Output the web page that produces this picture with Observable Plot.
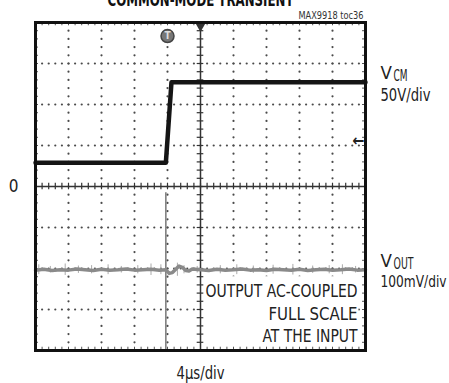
<!DOCTYPE html>
<html>
<head>
<meta charset="utf-8">
<script src="https://cdn.jsdelivr.net/npm/d3@7"></script>
<script src="https://cdn.jsdelivr.net/npm/@observablehq/plot@0.6"></script>
<style>
  html, body { margin: 0; padding: 0; background: #fff; }
  #chart svg { display: block; }
</style>
</head>
<body>
<div id="chart"></div>
<script>
// ---- data (divisions on the scope screen) ----
const vcmTime  = [0, 3.95, 4.12, 10];
const vcmLevel = [0.58, 0.58, 2.54, 2.54];

const voutTime  = [0, 0.25, 0.5, 0.75, 1, 1.25, 1.5, 1.75, 2, 2.25, 2.5, 2.75, 3, 3.25, 3.5, 3.75,
                   3.95, 4.05, 4.15, 4.25, 4.35, 4.45, 4.55, 4.65, 4.75,
                   5, 5.25, 5.5, 5.75, 6, 6.25, 6.5, 6.75, 7, 7.25, 7.5, 7.75, 8, 8.25, 8.5, 8.75, 9, 9.25, 9.5, 9.75, 10];
const voutLevel = [-2.04, -2.02, -2.05, -2.03, -2.04, -2.01, -2.03, -2.05, -2.02, -2.04, -2.03, -2.01, -2.04, -2.03, -2.02, -2.04,
                   -2.03, -2.12, -2.10, -2.02, -1.94, -1.97, -2.05, -2.06, -2.01,
                   -2.03, -2.05, -2.02, -2.04, -2.03, -2.01, -2.04, -2.03, -2.05, -2.02, -2.03, -2.04, -2.02, -2.05, -2.03, -2.02, -2.04, -2.03, -2.01, -2.04, -2.03];
const spikeTime = [0.1, 0.45, 0.9, 1.3, 1.7, 2.2, 2.6, 3.1, 3.5, 3.8, 4.3, 4.5, 4.9, 5.6, 6.1, 6.6, 7.2, 7.8, 8.4, 8.9, 9.3, 9.7];
const spikeSize = [0.12, 0.08, 0.14, 0.09, 0.1, 0.12, 0.08, 0.1, 0.14, 0.12, 0.16, 0.1, 0.08, 0.1, 0.12, 0.09, 0.11, 0.13, 0.09, 0.1, 0.12, 0.08];

const gridX = [1, 2, 3, 4, 6, 7, 8, 9];
const gridY = [-3, -2, -1, 1, 2, 3];

const titleText = "COMMON-MODE TRANSIENT";
const tocText = "MAX9918 toc36";
const zeroLabel = "0";
const timeLabel = "4µs/div";
const ch1Name = ["V", "CM"], ch1Scale = "50V/div";
const ch2Name = ["V", "OUT"], ch2Scale = "100mV/div";
const noteLines = ["OUTPUT AC-COUPLED", "FULL SCALE", "AT THE INPUT"];
const trigTime = 3.95, trigLevel = 1.12;

// ---- derived tables ----
const minorX = d3.range(0, 10.001, 0.2);
const minorY = d3.range(-4, 4.001, 0.2);
const hDots = gridY.flatMap(y => minorX.map(x => ({x, y})));
const vDots = gridX.flatMap(x => minorY.map(y => ({x, y})));
const vcm = vcmTime.map((t, i) => ({t, v: vcmLevel[i]}));
const vout = voutTime.map((t, i) => ({t, v: voutLevel[i]}));
const spikes = spikeTime.map((t, i) => ({t, h: spikeSize[i]}));
const base = -2.03;

const font = "'Liberation Sans Narrow', 'Arial Narrow', 'DejaVu Sans Condensed', sans-serif";
const fs = 17;

const chart = Plot.plot({
  width: 449, height: 383,
  marginLeft: 35, marginRight: 84, marginTop: 22, marginBottom: 33,
  x: {domain: [0, 10], axis: null},
  y: {domain: [-4, 4], axis: null},
  style: {fontFamily: font, background: "white", color: "#222"},
  marks: [
    // dotted grid
    Plot.dot(hDots, {x: "x", y: "y", r: 1.1, fill: "#4a4a4a", stroke: null}),
    Plot.dot(vDots, {x: "x", y: "y", r: 1.1, fill: "#4a4a4a", stroke: null}),
    // edge ticks
    Plot.ruleX(minorX, {y1: 4, y2: 3.92, stroke: "#555", strokeWidth: 1}),
    Plot.ruleX(minorX, {y1: -4, y2: -3.92, stroke: "#555", strokeWidth: 1}),
    Plot.ruleY(minorY, {x1: 0, x2: 0.09, stroke: "#555", strokeWidth: 1}),
    Plot.ruleY(minorY, {x1: 10, x2: 9.91, stroke: "#555", strokeWidth: 1}),
    // annotation backdrop
    Plot.rect([0], {x1: 5.12, x2: 9.8, y1: -2.2, y2: -3.9, fill: "white"}),
    // center axes with ticks
    Plot.ruleX([5], {stroke: "#333", strokeWidth: 1.5}),
    Plot.ruleY([0], {stroke: "#333", strokeWidth: 1.5}),
    Plot.ruleY(minorY, {x1: 4.9, x2: 5.1, stroke: "#333", strokeWidth: 1.2}),
    Plot.ruleX(minorX, {y1: -0.08, y2: 0.08, stroke: "#333", strokeWidth: 1.2}),
    // trigger line
    Plot.ruleX([trigTime], {y1: -0.15, y2: -4, stroke: "#777", strokeWidth: 1.5}),
    // traces
    Plot.ruleX(spikes, {x: "t", y1: d => base - d.h, y2: d => base + d.h, stroke: "#aaa", strokeWidth: 1}),
    Plot.line(vout, {x: "t", y: "v", stroke: "#8a8a8a", strokeWidth: 3.5}),
    Plot.line(vcm, {x: "t", y: "v", stroke: "#151515", strokeWidth: 4.5}),
    // markers
    Plot.dot([0], {x: 4, y: 3.67, r: 6.5, fill: "#777", stroke: "#444"}),
    Plot.text(["T"], {x: 4, y: 3.67, fill: "#ddd", fontSize: 10, fontWeight: "bold"}),
    Plot.dot([0], {x: 5, y: 4, symbol: "triangle", rotate: 180, r: 3.5, fill: "#333", dy: 4}),
    Plot.text(["←"], {x: 10, y: trigLevel, dx: -7, fontSize: 16, fontWeight: "bold", fill: "#222"}),
    // frame
    Plot.frame({stroke: "#111", strokeWidth: 3}),
    // annotation
    Plot.text([noteLines[0]], {frameAnchor: "bottom-right", textAnchor: "end", lineAnchor: "bottom", dx: -8, dy: -54, fontSize: 18.5, fill: "#222"}),
    Plot.text([noteLines[1]], {frameAnchor: "bottom-right", textAnchor: "end", lineAnchor: "bottom", dx: -8, dy: -31, fontSize: 18.5, fill: "#222"}),
    Plot.text([noteLines[2]], {frameAnchor: "bottom-right", textAnchor: "end", lineAnchor: "bottom", dx: -8, dy: -9, fontSize: 18.5, fill: "#222"}),
    // outside labels
    Plot.text([titleText], {frameAnchor: "top", lineAnchor: "bottom", dy: -17, fontSize: 18, fontWeight: "bold", fill: "#111"}),
    Plot.text([tocText], {frameAnchor: "top-right", textAnchor: "end", lineAnchor: "bottom", dx: -2, dy: -4, fontSize: 11, fill: "#333"}),
    Plot.text([zeroLabel], {frameAnchor: "left", y: 0, dx: -22, textAnchor: "middle", fontSize: fs, fill: "#222"}),
    Plot.text([timeLabel], {frameAnchor: "bottom", lineAnchor: "bottom", dy: 28, fontSize: fs, fill: "#222"}),
    Plot.text([ch1Name[0]], {frameAnchor: "top-right", textAnchor: "start", lineAnchor: "bottom", dx: 15, dy: 56, fontSize: 18.5, fill: "#222"}),
    Plot.text([ch1Name[1]], {frameAnchor: "top-right", textAnchor: "start", lineAnchor: "bottom", dx: 28, dy: 58, fontSize: 15, fill: "#222"}),
    Plot.text([ch1Scale], {frameAnchor: "top-right", textAnchor: "start", lineAnchor: "bottom", dx: 15, dy: 78, fontSize: fs, fill: "#222"}),
    Plot.text([ch2Name[0]], {frameAnchor: "bottom-right", textAnchor: "start", lineAnchor: "bottom", dx: 15, dy: -84, fontSize: 18.5, fill: "#222"}),
    Plot.text([ch2Name[1]], {frameAnchor: "bottom-right", textAnchor: "start", lineAnchor: "bottom", dx: 28, dy: -82, fontSize: 15, fill: "#222"}),
    Plot.text([ch2Scale], {frameAnchor: "bottom-right", textAnchor: "start", lineAnchor: "bottom", dx: 15, dy: -64, fontSize: 15.5, fill: "#222"})
  ]
});

// condense the texts to the widths seen in the reference (narrow typeface)
const targetWidth = new Map([
  [noteLines[0], 152], [noteLines[1], 89], [noteLines[2], 95],
  [ch1Scale, 50], [ch2Scale, 66], [timeLabel, 48], [tocText, 65], [titleText, 186],
  [ch1Name[1], 14], [ch2Name[1], 20]
]);
chart.querySelectorAll("text").forEach(t => {
  const w = targetWidth.get(t.textContent);
  if (w) {
    t.setAttribute("textLength", w);
    t.setAttribute("lengthAdjust", "spacingAndGlyphs");
  }
});
document.getElementById("chart").appendChild(chart);
</script>
</body>
</html>
